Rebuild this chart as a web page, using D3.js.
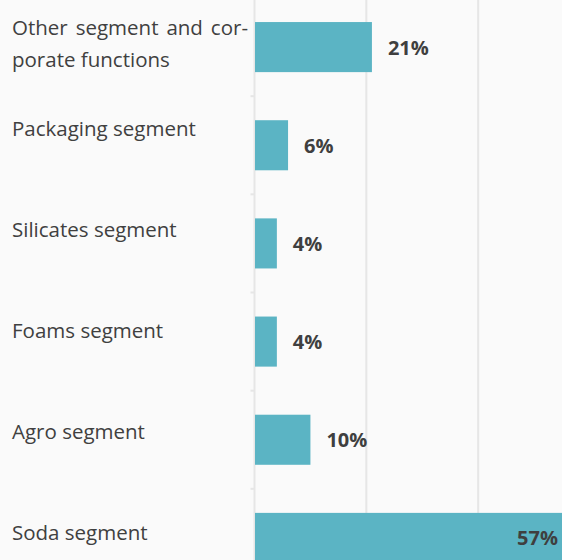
<!DOCTYPE html>
<html>
<head>
<meta charset="utf-8">
<script src="https://cdn.jsdelivr.net/npm/d3@7"></script>
<style>
  html, body { margin: 0; padding: 0; background: #fafafa; }
  svg { display: block; }
</style>
</head>
<body>
<svg id="chart" width="562" height="560"></svg>
<script>
// Share of results by segment (%)
const categories = [
  "Other segment and corporate functions",
  "Packaging segment",
  "Silicates segment",
  "Foams segment",
  "Agro segment",
  "Soda segment"
];
// Category labels as they wrap on the left
const labelLines = [
  ["Other segment and cor-", "porate functions"],
  ["Packaging segment"],
  ["Silicates segment"],
  ["Foams segment"],
  ["Agro segment"],
  ["Soda segment"]
];
const values = [21, 6, 4, 4, 10, 57];
const xTicks = [0, 20, 40, 60];

const W = 562, H = 560;
const svg = d3.select("#chart");

const x = d3.scaleLinear().domain([0, 60]).range([254.5, 590]);
const y = d3.scaleBand().domain(categories).range([-2, 587])
  .paddingInner(0.49).paddingOuter(0.245);
const yLabel = d3.scaleBand().domain(categories).range([0, 606]);

// vertical gridlines
svg.append("g")
  .selectAll("line")
  .data(xTicks.slice(1))
  .join("line")
  .attr("x1", d => x(d)).attr("x2", d => x(d))
  .attr("y1", 0).attr("y2", H)
  .attr("stroke", "#e6e6e6").attr("stroke-width", 2);

// category axis line with small ticks between bands
svg.append("line")
  .attr("x1", x(0)).attr("x2", x(0))
  .attr("y1", 0).attr("y2", H)
  .attr("stroke", "#e6e6e6").attr("stroke-width", 2);

svg.append("g")
  .selectAll("line")
  .data(categories.slice(1))
  .join("line")
  .attr("x1", x(0) - 4).attr("x2", x(0))
  .attr("y1", d => y(d) - y.step() * y.paddingInner() / 2)
  .attr("y2", d => y(d) - y.step() * y.paddingInner() / 2)
  .attr("stroke", "#e6e6e6").attr("stroke-width", 2);

// bars
svg.append("g")
  .selectAll("rect")
  .data(categories)
  .join("rect")
  .attr("x", x(0) + 0.5)
  .attr("y", d => y(d))
  .attr("width", (d, i) => x(values[i]) - x(0) - 0.5)
  .attr("height", y.bandwidth())
  .attr("fill", "#5bb4c4");

// value labels
svg.append("g")
  .selectAll("text")
  .data(categories)
  .join("text")
  .attr("font-family", "'Open Sans', sans-serif")
  .attr("font-weight", 700)
  .attr("font-size", 20)
  .attr("fill", "#3f3f3f")
  .attr("dominant-baseline", "central")
  .attr("y", d => y(d) + y.bandwidth() / 2)
  .each(function (d, i) {
    const end = x(values[i]);
    const t = d3.select(this).text(values[i] + "%");
    if (end > W) {
      t.attr("x", W - 4).attr("text-anchor", "end");
    } else {
      t.attr("x", end + 16).attr("text-anchor", "start");
    }
  });

// category labels
const labelG = svg.append("g")
  .attr("font-family", "'Open Sans', sans-serif")
  .attr("font-size", 20.5)
  .attr("fill", "#404040");

categories.forEach((c, i) => {
  const lines = labelLines[i];
  lines.forEach((line, j) => {
    const t = labelG.append("text")
      .attr("x", 12)
      .attr("y", yLabel(c) + 35 + j * 32)
      .text(line);
    // justify all but the last line of a wrapped label
    if (lines.length > 1 && j < lines.length - 1) {
      const gaps = line.split(" ").length - 1;
      const len = t.node().getComputedTextLength();
      const target = 236;
      if (gaps > 0 && len < target) {
        t.attr("word-spacing", (target - len) / gaps);
      }
    }
  });
});
</script>
</body>
</html>
